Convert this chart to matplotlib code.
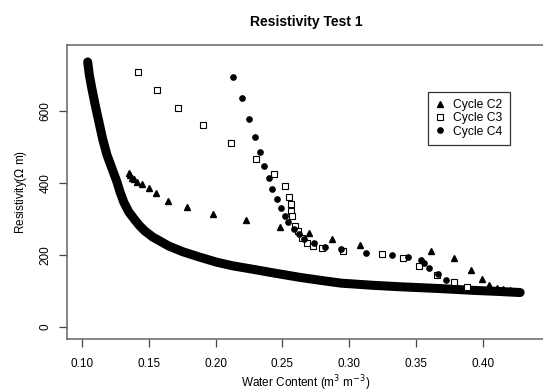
import numpy as np
import matplotlib
matplotlib.use("Agg")
import matplotlib.pyplot as plt

plt.rcParams['font.family'] = ['Liberation Sans', 'DejaVu Sans']

# dense main curve (all cycles overlapping)
band_x = [0.1043, 0.1055, 0.1073, 0.1100, 0.1127, 0.1155, 0.1187, 0.1225, 0.1262,
          0.1285, 0.1314, 0.1350, 0.1397, 0.1430, 0.1470, 0.1530, 0.1650, 0.1756,
          0.1883, 0.2010, 0.2130, 0.2257, 0.2440, 0.2632, 0.2820, 0.2940, 0.3180,
          0.3380, 0.3680, 0.3930, 0.4120, 0.4280]
band_y = [736, 700, 664, 615, 569, 522, 478, 440, 403,
          375, 346, 320, 297, 282, 267, 250, 225, 209,
          194, 180, 170, 162, 150, 138, 128, 122, 116,
          112, 107, 102, 99, 96]

# Cycle C2 (triangles)
c2_x = [0.1352, 0.1363, 0.1374, 0.1389, 0.1414, 0.1449, 0.1504, 0.1554, 0.1647,
        0.1784, 0.1983, 0.2228, 0.2480, 0.2699, 0.2873, 0.3081, 0.3610, 0.3787,
        0.3912, 0.3994, 0.4049, 0.4104, 0.4153, 0.4204, 0.4263]
c2_y = [428, 421, 415, 410, 404, 397, 387, 371, 351,
        333, 315, 297, 279, 261, 244, 229, 212, 191,
        158, 133, 117, 108, 106, 103, 101]

# Cycle C3 (open squares)
c3_x = [0.1417, 0.1564, 0.1721, 0.1908, 0.2115, 0.2301, 0.2439, 0.2521, 0.2551,
        0.2562, 0.2563, 0.2570, 0.2593, 0.2619, 0.2649, 0.2684, 0.2727, 0.2800,
        0.2956, 0.3247, 0.3405, 0.3526, 0.3659, 0.3787, 0.3880]
c3_y = [708, 658, 609, 560, 512, 467, 426, 392, 362,
        342, 323, 308, 281, 267, 246, 234, 225, 220,
        212, 202, 191, 170, 146, 125, 112]

# Cycle C4 (filled circles)
c4_x = [0.2134, 0.2200, 0.2250, 0.2295, 0.2331, 0.2364, 0.2397, 0.2424, 0.2457,
        0.2491, 0.2518, 0.2540, 0.2587, 0.2622, 0.2664, 0.2738, 0.2819, 0.2936,
        0.3124, 0.3319, 0.3444, 0.3540, 0.3558, 0.3600, 0.3662, 0.3725]
c4_y = [695, 635, 578, 529, 486, 448, 415, 383, 356,
        331, 308, 291, 272, 258, 244, 233, 223, 216,
        206, 201, 194, 186, 177, 165, 148, 130]

x_ticks = [0.10, 0.15, 0.20, 0.25, 0.30, 0.35, 0.40]
y_ticks = [0, 200, 400, 600]

W, H = 543, 392
fig = plt.figure(figsize=(W / 100, H / 100), dpi=100)
ax = fig.add_axes([67 / W, 1 - 339 / H, (545 - 67) / W, (339 - 45) / H])

ax.plot(band_x, band_y, color='black', lw=6.5, solid_capstyle='round',
        solid_joinstyle='round', zorder=2)
ax.plot(c2_x, c2_y, ls='none', marker='^', ms=4.3, color='black', label='Cycle C2', zorder=3)
ax.plot(c3_x, c3_y, ls='none', marker='s', ms=4.3, mfc='white', mec='black', mew=0.8,
        label='Cycle C3', zorder=3)
ax.plot(c4_x, c4_y, ls='none', marker='o', ms=3.8, color='black', label='Cycle C4', zorder=3)

ax.set_xlim(0.0888, 0.4466)
ax.set_ylim(-33, 783)
ax.set_xticks(x_ticks)
ax.set_xticklabels(['%.2f' % v for v in x_ticks])
ax.set_yticks(y_ticks)
ax.set_yticklabels([str(v) for v in y_ticks], rotation=90, va='center')
ax.tick_params(direction='out', length=6, width=0.9, color='#444444',
               labelsize=8.5, pad=8)
ax.tick_params(axis='y', pad=5)
for s in ax.spines.values():
    s.set_color('#666666')
    s.set_linewidth(1.1)

ax.set_xlabel('Water Content (m$^3$ m$^{-3}$)', fontsize=8.5, labelpad=2)
ax.set_ylabel('Resistivity($\\Omega$ m)', fontsize=8.5, labelpad=8)
ax.set_title('Resistivity Test 1', fontsize=10, fontweight='bold', pad=14)

leg = ax.legend(loc='upper left', bbox_to_anchor=(428 / W, 1 - 92 / H),
                bbox_transform=fig.transFigure, fontsize=8.7, frameon=True,
                fancybox=False, edgecolor='#333333', framealpha=1,
                handlelength=0.8, handletextpad=0.7, labelspacing=0.1,
                borderpad=0.6, borderaxespad=0)
leg.get_frame().set_linewidth(0.9)

fig.savefig('out.png', dpi=100)
